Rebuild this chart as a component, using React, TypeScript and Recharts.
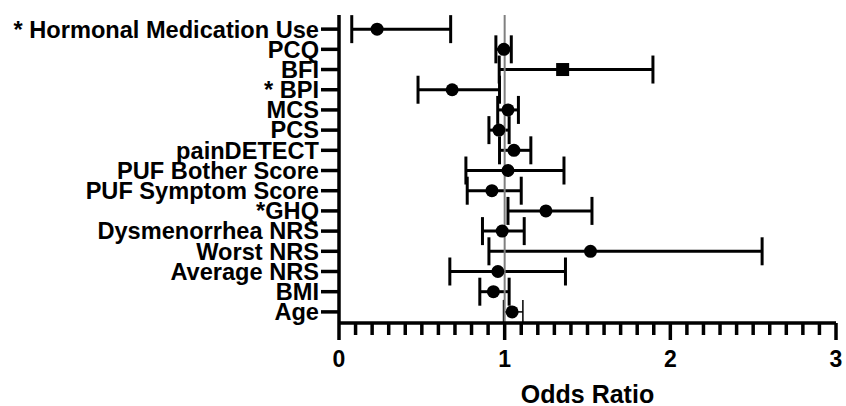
import React from "react";
import {
  ScatterChart,
  Scatter,
  XAxis,
  YAxis,
  ErrorBar,
  ReferenceLine,
} from "recharts";

// rows listed top to bottom as they appear in the plot
const LABELS = [
  "* Hormonal Medication Use",
  "PCQ",
  "BFI",
  "* BPI",
  "MCS",
  "PCS",
  "painDETECT",
  "PUF Bother Score",
  "PUF Symptom Score",
  "*GHQ",
  "Dysmenorrhea NRS",
  "Worst NRS",
  "Average NRS",
  "BMI",
  "Age",
];
const ODDS = [0.23, 0.995, 1.35, 0.683, 1.02, 0.965, 1.056, 1.02, 0.923, 1.249, 0.985, 1.518, 0.959, 0.932, 1.045];
const LOWER = [0.077, 0.947, 0.967, 0.477, 0.958, 0.905, 0.969, 0.766, 0.774, 1.02, 0.866, 0.905, 0.669, 0.85, 0.993];
const UPPER = [0.674, 1.04, 1.895, 0.969, 1.083, 1.027, 1.158, 1.358, 1.10, 1.527, 1.118, 2.554, 1.367, 1.027, 1.11];

const SQUARE_ROWS = ["BFI"];
const THIN_ROWS = ["Age"];

const MAJOR_TICKS = [0, 1, 2, 3];
const X_TICKS = Array.from({ length: 31 }, (_, i) => i / 10);

const FONT = "'Liberation Sans', Arial, sans-serif";
const n = LABELS.length;

const rows = LABELS.map((label, i) => ({
  label,
  idx: n - 1 - i,
  or: ODDS[i],
  err: [ODDS[i] - LOWER[i], UPPER[i] - ODDS[i]],
}));

const circleRows = rows.filter((r) => !SQUARE_ROWS.includes(r.label) && !THIN_ROWS.includes(r.label));
const squareRows = rows.filter((r) => SQUARE_ROWS.includes(r.label));
const thinRows = rows.filter((r) => THIN_ROWS.includes(r.label));

const Dot = (p: any) => <circle cx={p.cx} cy={p.cy} r={6.5} fill="#000" />;
const Square = (p: any) => <rect x={p.cx - 6.5} y={p.cy - 6.5} width={13} height={13} fill="#000" />;

const XTick = ({ x, y, payload }: any) => {
  const major = MAJOR_TICKS.includes(payload.value);
  return (
    <g>
      <line x1={x} x2={x} y1={y} y2={y + (major ? 17 : 12)} stroke="#000" strokeWidth={3.5} />
      {major && (
        <text
          x={x}
          y={y + 44}
          textAnchor="middle"
          fontFamily={FONT}
          fontWeight="bold"
          fontSize={23}
          fill="#000"
        >
          {payload.value}
        </text>
      )}
    </g>
  );
};

export default function App() {
  return (
    <div style={{ position: "absolute", left: 0, top: 0 }}>
      <ScatterChart width={846} height={406} margin={{ top: 15, right: 10, bottom: 0, left: 0 }}>
        <XAxis
          type="number"
          dataKey="or"
          domain={[0, 3]}
          ticks={X_TICKS}
          interval={0}
          allowDataOverflow
          height={83}
          tickSize={0}
          tickMargin={0}
          tickLine={false}
          tick={<XTick />}
          axisLine={{ stroke: "#000", strokeWidth: 3.5 }}
          label={{
            value: "Odds Ratio",
            position: "insideBottom",
            offset: 3,
            fontFamily: FONT,
            fontWeight: "bold",
            fontSize: 25,
            fill: "#000",
          }}
        />
        <YAxis
          type="number"
          dataKey="idx"
          domain={[-0.55, 14.7]}
          ticks={rows.map((r) => r.idx)}
          interval={0}
          allowDataOverflow
          width={339}
          tickSize={18}
          tickMargin={2}
          tickFormatter={(v: number) => LABELS[n - 1 - v]}
          tick={{ fontFamily: FONT, fontWeight: "bold", fontSize: 23.6, fill: "#000" }}
          tickLine={{ stroke: "#000", strokeWidth: 3.5 }}
          axisLine={{ stroke: "#000", strokeWidth: 3.5 }}
        />
        <Scatter data={circleRows} shape={Dot} isAnimationActive={false}>
          <ErrorBar dataKey="err" direction="x" width={14} stroke="#000" strokeWidth={3} />
        </Scatter>
        <Scatter data={squareRows} shape={Square} isAnimationActive={false}>
          <ErrorBar dataKey="err" direction="x" width={14} stroke="#000" strokeWidth={3} />
        </Scatter>
        <Scatter data={thinRows} shape={Dot} isAnimationActive={false}>
          <ErrorBar dataKey="err" direction="x" width={12} stroke="#000" strokeWidth={1.5} />
        </Scatter>
        <ReferenceLine x={1} stroke="#808080" strokeWidth={2} />
      </ScatterChart>
    </div>
  );
}
